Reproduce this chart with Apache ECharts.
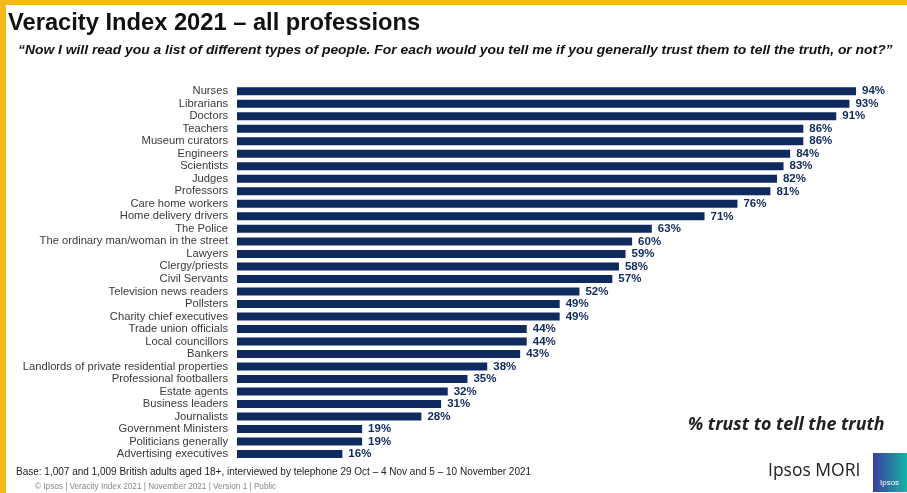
<!DOCTYPE html>
<html>
<head>
<meta charset="utf-8">
<script src="https://cdn.jsdelivr.net/npm/echarts@6/dist/echarts.min.js"></script>
<style>
html,body{margin:0;padding:0;background:#fff;}
#chart{width:907px;height:493px;}
</style>
</head>
<body>
<div id="chart"></div>
<script>
const categories = ["Nurses","Librarians","Doctors","Teachers","Museum curators","Engineers","Scientists","Judges","Professors","Care home workers","Home delivery drivers","The Police","The ordinary man/woman in the street","Lawyers","Clergy/priests","Civil Servants","Television news readers","Pollsters","Charity chief executives","Trade union officials","Local councillors","Bankers","Landlords of private residential properties","Professional footballers","Estate agents","Business leaders","Journalists","Government Ministers","Politicians generally","Advertising executives"];
const trustValues = [94,93,91,86,86,84,83,82,81,76,71,63,60,59,58,57,52,49,49,44,44,43,38,35,32,31,28,19,19,16];
const titleText = "Veracity Index 2021 \u2013 all professions";
const subtitleText = "\u201cNow I will read you a list of different types of people. For each would you tell me if you generally trust them to tell the truth, or not?\u201d";
const baseNote = "Base: 1,007 and 1,009 British adults aged 18+, interviewed by telephone 29 Oct \u2013 4 Nov and 5 \u2013 10 November 2021";
const footer = "\u00a9 Ipsos | Veracity Index 2021 | November 2021 | Version 1 | Public";
const measureNote = "% trust to tell the truth";
const brand = "Ipsos MORI";

const navy = "#0f2a5f";
const chart = echarts.init(document.getElementById('chart'));
chart.setOption({
  backgroundColor: '#ffffff',
  animation: false,
  grid: {left: 237, right: 11.5, top: 85, bottom: 32.7, containLabel: false},
  xAxis: {type: 'value', min: 0, max: 100, show: false},
  yAxis: {
    type: 'category', data: categories, inverse: true,
    axisLine: {show: false}, axisTick: {show: false},
    axisLabel: {interval: 0, margin: 9, fontSize: 11.2, color: '#3a3a3a', fontFamily: 'Liberation Sans, Arial, sans-serif'}
  },
  series: [{
    type: 'bar', data: trustValues, barWidth: 8,
    itemStyle: {color: navy},
    label: {show: true, position: 'right', distance: 6, formatter: '{c}%', fontSize: 11.5, fontWeight: 'bold', color: navy, fontFamily: 'Liberation Sans, Arial, sans-serif'}
  }],
  graphic: [
    {type: 'rect', left: 0, top: 0, shape: {width: 907, height: 5}, style: {fill: '#f8b81a'}},
    {type: 'rect', left: 0, top: 0, shape: {width: 6, height: 493}, style: {fill: '#f8b81a'}},
    {type: 'text', left: 8, top: 11, style: {text: titleText, font: 'bold 23.7px "Liberation Sans", Arial, sans-serif', fill: '#111'}},
    {type: 'text', x: 18, y: 45, scaleX: 1.155, style: {text: subtitleText, font: 'italic bold 12px "Liberation Sans", Arial, sans-serif', fill: '#111'}},
    {type: 'text', left: 16, top: 467, style: {text: baseNote, font: '10px "Liberation Sans", Arial, sans-serif', fill: '#222'}},
    {type: 'text', left: 35, top: 483, style: {text: footer, font: '8.2px "Liberation Sans", Arial, sans-serif', fill: '#888'}},
    {type: 'text', left: 688, top: 416, style: {text: measureNote, font: 'italic bold 17.8px "Open Sans", "Liberation Sans", Arial, sans-serif', fill: '#222'}},
    {type: 'text', left: 768, top: 462, style: {text: brand, font: '17.5px "Open Sans", "Liberation Sans", Arial, sans-serif', fill: '#222'}},
    {type: 'rect', left: 873, top: 453, shape: {width: 34, height: 39}, style: {fill: new echarts.graphic.LinearGradient(0,0,1,0,[{offset:0,color:'#3b3d9e'},{offset:1,color:'#16b4a6'}])}},
    {type: 'text', left: 880, top: 479, style: {text: 'Ipsos', font: '8px "Liberation Sans", Arial, sans-serif', fill: '#fff'}}
  ]
});
</script>
</body>
</html>
